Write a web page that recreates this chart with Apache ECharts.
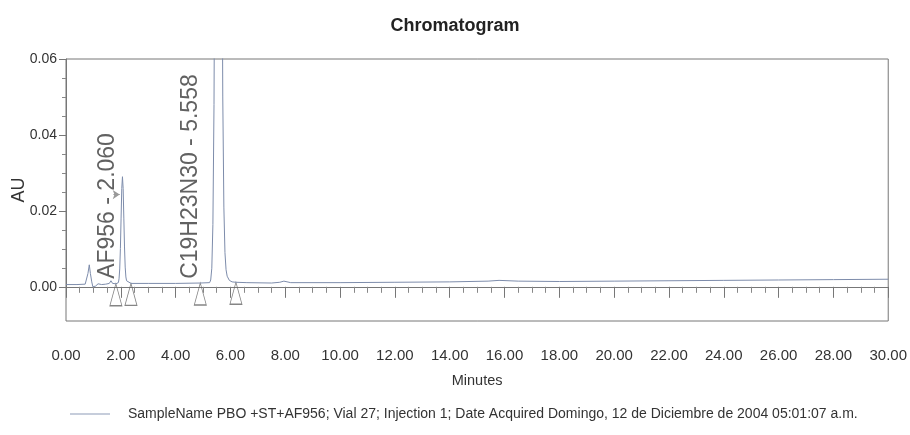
<!DOCTYPE html>
<html><head><meta charset="utf-8">
<script src="https://cdn.jsdelivr.net/npm/echarts@6/dist/echarts.min.js"></script>
<style>html,body{margin:0;padding:0;background:#fff}#c{width:910px;height:435px}</style>
</head><body><div id="c"></div>
<script>
// ---- data ----
const times = [0.00,0.40,0.70,0.76,0.80,0.85,0.89,0.94,0.98,1.02,1.08,1.17,1.30,1.45,1.58,1.64,1.70,1.82,
  1.91,1.935,1.96,1.985,2.01,2.035,2.06,2.085,2.11,2.135,2.16,2.185,2.21,2.26,2.37,3.00,4.00,4.90,
  5.24,5.28,5.32,5.36,5.40,5.44,5.48,5.52,5.558,5.60,5.64,5.68,5.72,5.76,5.80,5.84,5.88,5.96,6.06,6.20,
  6.60,7.50,7.80,7.95,8.20,10.00,12.00,14.00,15.40,15.80,16.50,18.00,20.00,22.00,24.00,26.00,28.00,30.00];
const absorbance = [0.0006,0.0006,0.0007,0.0012,0.0035,0.0058,0.0035,0.0013,0.0000,-0.0003,0.0002,0.0008,0.0006,0.0007,0.0009,0.0016,0.0009,0.0008,
  0.0011,0.0021,0.0047,0.0101,0.0181,0.0259,0.0290,0.0259,0.0181,0.0105,0.0052,0.0026,0.0016,0.0011,0.0009,0.0009,0.0009,0.0010,
  0.0011,0.0018,0.0049,0.0164,0.0480,0.1150,0.2130,0.3100,0.3510,0.3100,0.2140,0.1170,0.0500,0.0210,0.0090,0.0045,0.0028,0.0017,0.0013,0.0012,
  0.0011,0.0010,0.0012,0.0015,0.0011,0.0011,0.0012,0.0013,0.0015,0.0017,0.0015,0.0014,0.0015,0.0016,0.0017,0.0018,0.0019,0.0020];
const peakNames = ['AF956', 'C19H23N30'];
const peakTimes = [2.060, 5.558];
const markerTimes = [1.82, 2.37, 4.90, 6.20];
const markerLevels = [0.0008, 0.0009, 0.0010, 0.0012];
const seriesName = 'SampleName PBO +ST+AF956; Vial 27; Injection 1; Date Acquired Domingo, 12 de Diciembre de 2004 05:01:07 a.m.';
const xRange = [0, 30];
const yTickRange = [0, 0.06];

// ---- chart ----
const FONT = "'Liberation Sans', Arial, sans-serif";
const labelAnchorX = [1.53, 4.56];
const labelAnchorY = 0.0021;

const chart = echarts.init(document.getElementById('c'), null, {renderer: 'canvas'});
chart.setOption({
  animation: false,
  backgroundColor: '#fff',
  title: {
    text: 'Chromatogram', left: 'center', top: 12,
    textStyle: {fontFamily: FONT, fontSize: 18, fontWeight: 'bold', color: '#222'}
  },
  legend: {
    data: [seriesName], left: 70, top: 407, padding: 0, icon: 'rect', itemWidth: 40, itemHeight: 1,
    textStyle: {fontFamily: FONT, fontSize: 14, color: '#333', padding: [0, 0, 0, 13]}
  },
  grid: [
    {left: 66, right: 21, top: 59, bottom: 114, show: true, borderColor: '#777', borderWidth: 1, backgroundColor: 'transparent'},
    {left: 66, right: 21, top: 59, bottom: 148, show: false}
  ],
  xAxis: [
    {gridIndex: 0, type: 'value', min: xRange[0], max: xRange[1], interval: 2,
     name: 'Minutes', nameLocation: 'middle', nameGap: 52,
     nameTextStyle: {fontFamily: FONT, fontSize: 14.5, color: '#333'},
     axisLine: {show: true, lineStyle: {color: '#777'}},
     axisTick: {show: true, length: 11, lineStyle: {color: '#777'}},
     minorTick: {show: true, splitNumber: 4, length: 6, lineStyle: {color: '#888'}},
     splitLine: {show: false},
     axisLabel: {margin: 27, fontFamily: FONT, fontSize: 15, color: '#333', formatter: v => v.toFixed(2)}
    },
    {gridIndex: 1, type: 'value', min: xRange[0], max: xRange[1], show: false}
  ],
  yAxis: [
    {gridIndex: 0, type: 'value', min: -0.009, max: 0.06,
     name: 'AU', nameLocation: 'middle', nameGap: 38, nameRotate: 90,
     nameTextStyle: {fontFamily: FONT, fontSize: 18, color: '#333'},
     axisLine: {show: false}, axisTick: {show: false}, axisLabel: {show: false}, splitLine: {show: false}
    },
    {gridIndex: 1, type: 'value', min: yTickRange[0], max: yTickRange[1], interval: 0.02,
     axisLine: {show: true, lineStyle: {color: '#777'}},
     axisTick: {show: true, length: 7, lineStyle: {color: '#777'}},
     minorTick: {show: true, splitNumber: 4, length: 4, lineStyle: {color: '#888'}},
     splitLine: {show: false},
     axisLabel: {margin: 9, fontFamily: FONT, fontSize: 14, color: '#333', formatter: v => v.toFixed(2)}
    }
  ],
  series: [
    {
      name: seriesName, type: 'line', xAxisIndex: 0, yAxisIndex: 0,
      data: times.map((t, i) => [t, absorbance[i]]),
      symbol: 'none', clip: true,
      lineStyle: {color: '#7d8cab', width: 1},
      itemStyle: {color: '#8d9bb8'},
      markLine: {
        silent: true, symbol: ['none', 'arrow'], symbolSize: [7, 7],
        label: {show: false}, lineStyle: {color: '#999', width: 1, type: 'solid'},
        data: [[{coord: [peakTimes[0] - 0.33, 0.0243]}, {coord: [peakTimes[0] - 0.1, 0.0243]}]]
      }
    },
    {
      name: 'markers', type: 'scatter', xAxisIndex: 0, yAxisIndex: 0,
      data: markerTimes.map((t, i) => [t, markerLevels[i]]),
      symbol: 'triangle', symbolSize: [12, 22], symbolOffset: [0, 11],
      itemStyle: {color: 'rgba(255,255,255,0)', borderColor: '#666', borderWidth: 1},
      silent: true
    },
    {
      name: 'labels', type: 'scatter', xAxisIndex: 0, yAxisIndex: 0,
      data: peakNames.map((n, i) => ({value: [labelAnchorX[i], labelAnchorY], name: n + ' - ' + peakTimes[i].toFixed(3)})),
      symbolSize: 0, silent: true,
      label: {show: true, position: 'inside', rotate: 90, align: 'left', verticalAlign: 'middle',
              formatter: p => p.name, fontFamily: FONT, fontSize: 23, color: '#3a3a3a'}
    }
  ]
});
</script></body></html>
